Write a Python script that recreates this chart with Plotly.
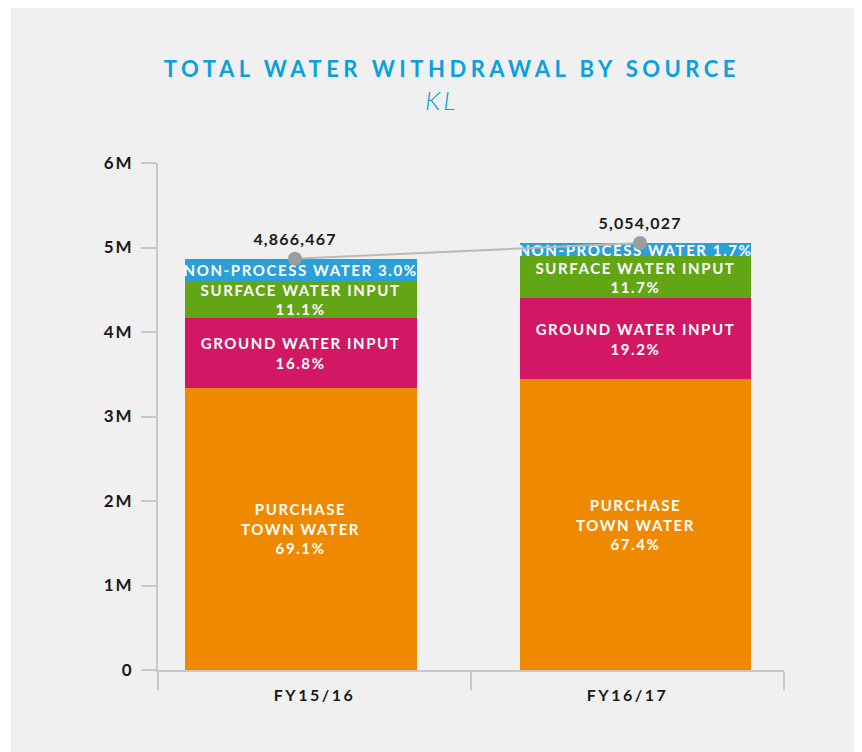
import plotly.graph_objects as go

years = ["FY15/16", "FY16/17"]
totals = [4866467, 5054027]

# segment values in KL
purchase = [3340000, 3440000]
ground = [828000, 960000]
surface = [428000, 495000]
nonprocess = [270467, 159027]

purchase_lbl = ["PURCHASE<br>TOWN WATER<br>69.1%", "PURCHASE<br>TOWN WATER<br>67.4%"]
ground_lbl = ["GROUND WATER INPUT<br>16.8%", "GROUND WATER INPUT<br>19.2%"]
surface_lbl = ["SURFACE WATER INPUT<br>11.1%", "SURFACE WATER INPUT<br>11.7%"]
nonprocess_lbl = ["NON-PROCESS WATER 3.0%", "NON-PROCESS WATER 1.7%"]
total_lbl = ["4,866,467", "5,054,027"]

ytick_vals = [0, 1e6, 2e6, 3e6, 4e6, 5e6, 6e6]
ytick_text = ["0", "1M", "2M", "3M", "4M", "5M", "6M"]

FONT = "Lato"
axis_col = "#c5c7c8"


def spaced(s, px):
    # letter tracking, the labels in the original are widely spaced
    return "<br>".join(f'<span style="letter-spacing:{px}px">{p}</span>' for p in s.split("<br>"))


fig = go.Figure()

series = [
    (purchase, purchase_lbl, "#ef8a00"),
    (ground, ground_lbl, "#d21764"),
    (surface, surface_lbl, "#62a515"),
    (nonprocess, nonprocess_lbl, "#2a9fd8"),
]
for vals, lbl, col in series:
    fig.add_trace(go.Bar(
        x=years, y=vals, text=[spaced(t, 1.6) for t in lbl],
        marker=dict(color=col, line=dict(width=0)),
        width=0.741, offset=[-0.415, -0.345],
        textposition="inside", insidetextanchor="middle", textangle=0,
        textfont=dict(family=FONT, size=15, color="white", weight="bold"),
        hoverinfo="skip", showlegend=False,
    ))

fig.add_trace(go.Scatter(
    x=years, y=totals, text=[spaced(t, 1.2) for t in total_lbl], xaxis="x2",
    mode="lines+markers+text", textposition="top center",
    line=dict(color="#b8b9ba", width=2),
    marker=dict(color="#9c9d9e", size=14),
    textfont=dict(family=FONT, size=16, color="#1a1a1a", weight="bold"),
    cliponaxis=False, showlegend=False, hoverinfo="skip",
))

fig.update_layout(
    width=862, height=752,
    barmode="stack",
    paper_bgcolor="white",
    plot_bgcolor="rgba(0,0,0,0)",
    margin=dict(l=150, r=86, t=155, b=90),
    uniformtext=dict(minsize=15, mode="show"),
    title=dict(
        text=spaced("TOTAL WATER WITHDRAWAL BY SOURCE", 4.5),
        x=0.515, xanchor="center", y=0.919, yanchor="middle",
        font=dict(family=FONT, size=22, color="#0aa0dc", weight="bold"),
    ),
    annotations=[dict(
        text=spaced("<i>KL</i>", 3), xref="paper", yref="paper",
        x=(441 - 8 - 150) / 626, y=1 + (155 - 92) / 507,
        xanchor="center", yanchor="middle", showarrow=False,
        font=dict(family=FONT, size=26, color="#0aa0dc", weight=300),
    )],
    xaxis=dict(
        type="category", range=[-0.5, 1.5],
        tickvals=years, ticktext=[spaced(y, 2.5) for y in years],
        showline=True, linecolor=axis_col, linewidth=2,
        ticks="outside", tickson="boundaries", ticklen=18, tickwidth=2, tickcolor=axis_col,
        ticklabelstandoff=10,
        showgrid=False, zeroline=False,
        tickfont=dict(family=FONT, size=16, color="#1a1a1a", weight="bold"),
    ),
    xaxis2=dict(
        type="category", overlaying="x", range=[-0.397, 1.417],
        visible=False,
    ),
    yaxis=dict(
        range=[0, 6e6], tickvals=ytick_vals, ticktext=[spaced(t, 2) for t in ytick_text],
        showline=True, linecolor=axis_col, linewidth=2,
        ticks="outside", ticklen=15, tickwidth=2, tickcolor=axis_col,
        ticklabelstandoff=4,
        showgrid=False, zeroline=False,
        tickfont=dict(family=FONT, size=17, color="#1a1a1a", weight="bold"),
    ),
    shapes=[dict(type="rect", xref="paper", yref="paper",
                 x0=(-150 + 3) / 626, x1=1 + 86 / 626,
                 y0=-90 / 507, y1=1 + 155 / 507,
                 fillcolor="#eff0ef", line=dict(width=0), layer="below")],
)

fig.write_html("out.html")
